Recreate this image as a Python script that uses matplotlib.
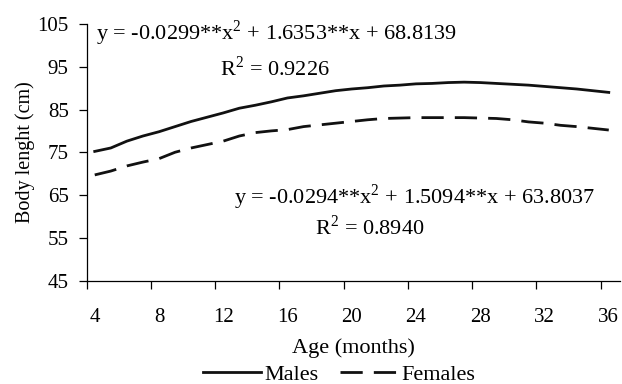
import matplotlib
matplotlib.use("Agg")
import matplotlib.pyplot as plt
from matplotlib.lines import Line2D
from matplotlib.transforms import ScaledTranslation

plt.rcParams['font.family'] = ['Liberation Serif', 'DejaVu Serif']
plt.rcParams['mathtext.fontset'] = 'custom'
plt.rcParams['mathtext.rm'] = 'Liberation Serif'

age = [4.5, 5.5, 6.5, 7.5, 8.5, 9.5, 10.5, 11.5, 12.5, 13.5, 14.5, 15.5, 16.5,
       17.5, 18.5, 19.5, 20.5, 21.5, 22.5, 23.5, 24.5, 25.5, 26.5, 27.5, 28.5,
       29.5, 30.5, 31.5, 32.5, 33.5, 34.5, 35.5, 36.5]
males = [75.2, 76.0, 77.6, 78.8, 79.8, 81.0, 82.2, 83.2, 84.2, 85.3, 86.0, 86.8,
         87.7, 88.2, 88.8, 89.4, 89.8, 90.1, 90.5, 90.7, 91.0, 91.1, 91.3, 91.4,
         91.3, 91.1, 90.9, 90.7, 90.4, 90.1, 89.8, 89.4, 89.0]
females = [69.7, 70.6, 71.8, 72.7, 73.5, 75.0, 76.0, 76.8, 77.6, 78.8, 79.6, 80.0,
           80.3, 81.0, 81.4, 81.8, 82.2, 82.6, 82.9, 83.0, 83.1, 83.1, 83.1, 83.1,
           83.0, 82.9, 82.6, 82.1, 81.8, 81.3, 81.0, 80.6, 80.2]
xticks = [4, 8, 12, 16, 20, 24, 28, 32, 36]
yticks = [45, 55, 65, 75, 85, 95, 105]

fig = plt.figure(figsize=(6.22, 3.84), dpi=100)
ax = fig.add_axes([0.1394, 0.2695, 0.9968 - 0.1394, 0.9375 - 0.2695])

ax.plot(age, males, color='#111111', lw=2.0, solid_joinstyle='round')
ax.plot(age, females, color='#111111', lw=2.0, linestyle=(0, (8, 4)))

ax.set_xlim(4, 37.2)
ax.set_ylim(45, 105)
ax.set_xticks(xticks)
ax.set_yticks(yticks)
for s in ['top', 'right']:
    ax.spines[s].set_visible(False)
for s in ['left', 'bottom']:
    ax.spines[s].set_linewidth(0.9)
ax.tick_params(direction='out', length=6, width=0.9, labelsize=15)
ax.tick_params(axis='x', pad=13.5)
ax.tick_params(axis='y', pad=7)
off = ScaledTranslation(0.08, 0, fig.dpi_scale_trans)
for lab in ax.get_xticklabels():
    lab.set_transform(lab.get_transform() + off)
ax.set_xlabel('Age (months)', fontsize=16, labelpad=8.5)
ax.set_ylabel('Body lenght (cm)', fontsize=14.5, labelpad=2)

ax.text(4.6, 102.9, r'y = -0.0299**x$^2$ + 1.6353**x + 68.8139', fontsize=16,
        va='center', ha='left')
ax.text(12.3, 94.7, r'R$^2$ = 0.9226', fontsize=16, va='center', ha='left')
ax.text(13.2, 64.5, r'y = -0.0294**x$^2$ + 1.5094**x + 63.8037', fontsize=16,
        va='center', ha='left')
ax.text(18.2, 57.3, r'R$^2$ = 0.8940', fontsize=16, va='center', ha='left')

handles = [Line2D([], [], color='#111111', lw=2.0),
           Line2D([], [], color='#111111', lw=2.0, linestyle=(0, (8, 4)))]
fig.legend(handles, ['Males', 'Females'], loc='center', bbox_to_anchor=(0.545, 0.024),
           ncol=2, frameon=False, fontsize=16, handlelength=2.6, columnspacing=1.0,
           handletextpad=0.15, borderpad=0)

fig.savefig('out.png', dpi=100)
